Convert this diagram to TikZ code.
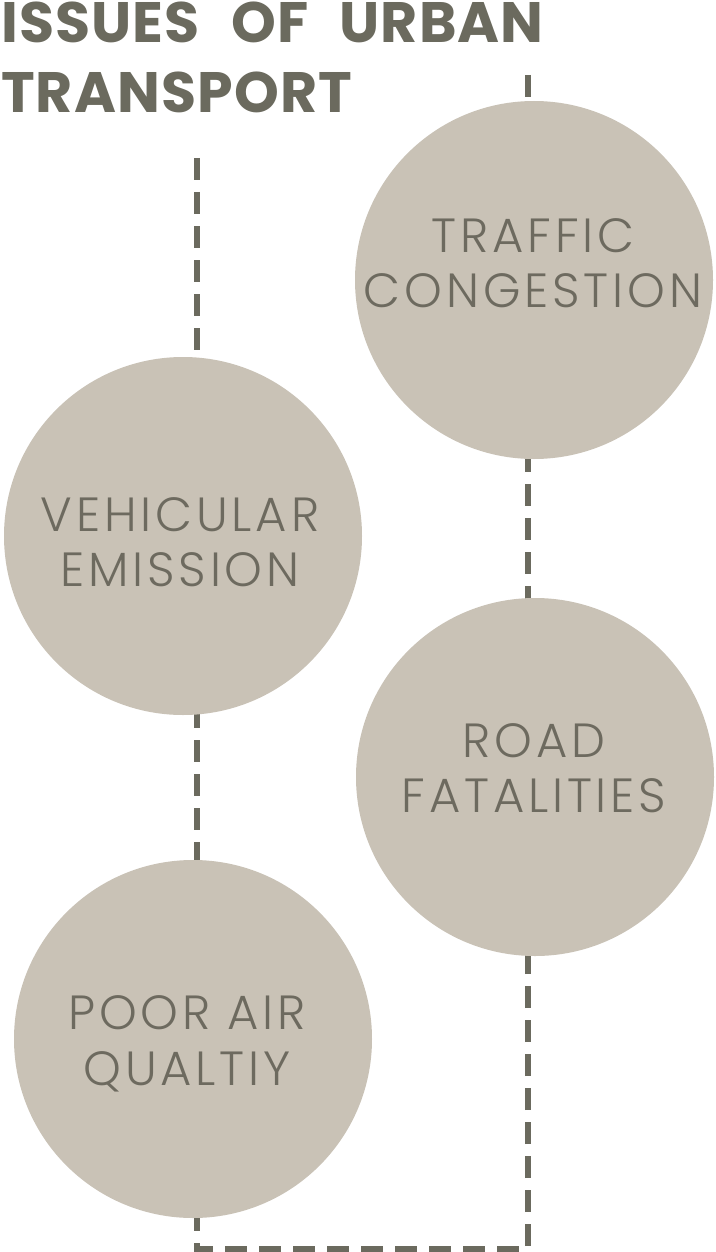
\documentclass[tikz,border=0pt]{standalone}
\usepackage{fontspec}
\newfontfamily\titlefont{Poppins}[UprightFont=* Bold, LetterSpace=2]
\newfontfamily\circfont{Poppins}[UprightFont=* Light, LetterSpace=8]
\definecolor{circfill}{HTML}{C9C2B6}
\definecolor{inktext}{HTML}{6D6A5F}
\definecolor{inkline}{HTML}{6B6A5E}
\tikzset{
  issue/.style={circle, fill=circfill, minimum size=358pt, inner sep=0pt},
  issuetext/.style={inner sep=0pt, text=inktext, align=center,
    font=\circfont\fontsize{48}{55.5}\selectfont},
  dashline/.style={draw=inkline, line width=6pt, dash pattern=on 22pt off 12pt},
  titletext/.style={anchor=base west, inner sep=0pt, text=inkline,
    font=\titlefont\fontsize{57}{70}\selectfont}
}
\begin{document}
\begin{tikzpicture}[x=1pt,y=-1pt]
\useasboundingbox (0,0) rectangle (715,1252);
\node[titletext] (t1) at (1,43) {ISSUES\hspace{18pt} OF\hspace{18pt} URBAN};
\node[titletext] (t2) at (1,113) {TRANSPORT};
\coordinate (leftTop) at (197,158);
\coordinate (rightTop) at (528,75);
\coordinate (cornerL) at (197,1249);
\coordinate (cornerR) at (528,1249);
\coordinate (traffic) at (534,280);
\coordinate (vehic) at (183,536);
\coordinate (road) at (535,777);
\coordinate (poor) at (193,1039);
% connectors (behind circles)
\draw[dashline] (rightTop) -- (rightTop |- traffic);
\draw[dashline] (rightTop |- traffic) -- (rightTop |- road);
\draw[dashline] (leftTop) -- (leftTop |- vehic);
\draw[dashline] (leftTop |- vehic) -- (leftTop |- poor);
\draw[dashline] (leftTop |- poor) -- (cornerL) -- (cornerR) -- (rightTop |- road);
% circles
\node[issue] (nTraffic) at (traffic) {};
\node[issue] (nVehic) at (vehic) {};
\node[issue] (nRoad) at (road) {};
\node[issue] (nPoor) at (poor) {};
% labels
\node[issuetext] (lTraffic) at (533,263) {TRAFFIC\\CONGESTION};
\node[issuetext] (lVehic) at (180,542) {VEHICULAR\\EMISSION};
\node[issuetext] (lRoad) at (534,768) {ROAD\\FATALITIES};
\node[issuetext] (lPoor) at (187,1044) {POOR AIR\\QUALTIY};
\end{tikzpicture}
\end{document}
